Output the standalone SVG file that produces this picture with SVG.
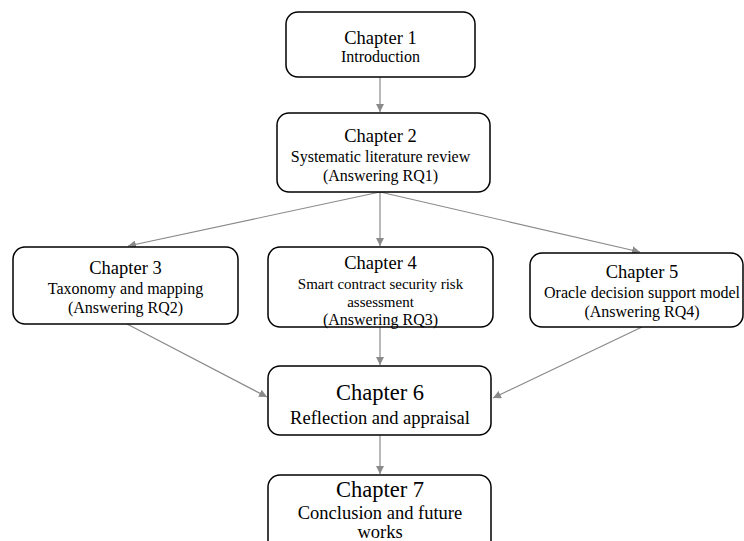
<svg xmlns="http://www.w3.org/2000/svg" width="744" height="541" viewBox="0 0 744 541">
<defs>
<marker id="ah" viewBox="0 0 10 10" refX="10" refY="5" markerWidth="8" markerHeight="8" markerUnits="userSpaceOnUse" orient="auto">
<path d="M0,0 L10,5 L0,10 z" fill="#8a8a8a"/>
</marker>
</defs>
<style>
.box{fill:#fff;stroke:#000;stroke-width:1.5}
.t{font-family:"Liberation Serif","Times New Roman",serif;fill:#000;text-anchor:middle}
.h{font-size:18.5px}
.h6{font-size:22.5px}
.s{font-size:16px}
.s15{font-size:15px}
.s18{font-size:18.5px}
.c{stroke:#8a8a8a;stroke-width:1.2;fill:none;marker-end:url(#ah)}
</style>
<rect width="744" height="541" fill="#fff"/>
<g id="connectors">
<line class="c" x1="380" y1="77" x2="380" y2="112"/>
<line class="c" x1="380" y1="192" x2="128" y2="246"/>
<line class="c" x1="380" y1="192" x2="380" y2="246"/>
<line class="c" x1="380" y1="192" x2="640" y2="252"/>
<line class="c" x1="127" y1="324" x2="267" y2="397"/>
<line class="c" x1="380" y1="327" x2="380" y2="365"/>
<line class="c" x1="642" y1="327" x2="493" y2="398"/>
<line class="c" x1="380" y1="435" x2="380" y2="474"/>
</g>
<g id="ch1">
<rect class="box" x="286" y="12" width="189" height="65" rx="12"/>
<text class="t h" x="380.5" y="44">Chapter 1</text>
<text class="t s" x="380.5" y="62">Introduction</text>
</g>
<g id="ch2">
<rect class="box" x="277" y="113" width="213" height="79" rx="12"/>
<text class="t h" x="380.5" y="142">Chapter 2</text>
<text class="t s" x="380.5" y="162">Systematic literature review</text>
<text class="t s" x="380.5" y="181">(Answering RQ1)</text>
</g>
<g id="ch3">
<rect class="box" x="13" y="247" width="225" height="77" rx="12"/>
<text class="t h" x="125.5" y="274">Chapter 3</text>
<text class="t s" x="125.5" y="294">Taxonomy and mapping</text>
<text class="t s" x="125.5" y="313">(Answering RQ2)</text>
</g>
<g id="ch4">
<rect class="box" x="268" y="247" width="225" height="80" rx="12"/>
<text class="t h" x="380.5" y="269">Chapter 4</text>
<text class="t s15" x="380.5" y="289">Smart contract security risk</text>
<text class="t s15" x="380.5" y="307">assessment</text>
<text class="t s" x="380.5" y="325">(Answering RQ3)</text>
</g>
<g id="ch5">
<rect class="box" x="530" y="253" width="213" height="74" rx="12"/>
<text class="t h" x="642" y="278">Chapter 5</text>
<text class="t s" x="642" y="298">Oracle decision support model</text>
<text class="t s" x="642" y="317">(Answering RQ4)</text>
</g>
<g id="ch6">
<rect class="box" x="268" y="366" width="223" height="69" rx="12"/>
<text class="t h6" x="380" y="400">Chapter 6</text>
<text class="t s18" x="380" y="424">Reflection and appraisal</text>
</g>
<g id="ch7">
<rect class="box" x="268" y="475" width="223" height="80" rx="12"/>
<text class="t h6" x="380" y="497">Chapter 7</text>
<text class="t s18" x="380" y="519">Conclusion and future</text>
<text class="t s18" x="380" y="538">works</text>
</g>
</svg>
